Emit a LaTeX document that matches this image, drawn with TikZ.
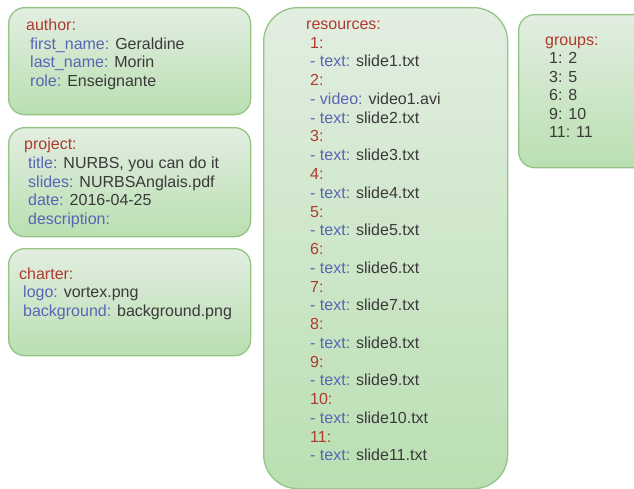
\documentclass[tikz,border=0pt]{standalone}
\usepackage{fontspec}
\setmainfont{Liberation Sans}
\definecolor{kred}{HTML}{B03A2E}
\definecolor{kblue}{HTML}{5865B5}
\definecolor{kgray}{HTML}{3A3A3A}
\definecolor{btop}{HTML}{E2EEE1}
\definecolor{bbot}{HTML}{BADFB2}
\definecolor{bdraw}{HTML}{94C585}
\newcommand{\Kr}[1]{\textcolor{kred}{#1}}
\newcommand{\Kb}[1]{\textcolor{kblue}{#1}}
\tikzset{
  card/.style={draw=bdraw, line width=1.3pt, top color=btop, bottom color=bbot,
    anchor=north west, inner sep=0pt, rounded corners=#1},
  card/.default=16pt,
  txt/.style={anchor=base west, inner sep=0pt, font=\fontsize{16}{18.75}\selectfont, text=kgray}
}
\begin{document}
\begin{tikzpicture}[x=1pt,y=-1pt]
\clip (0,0) rectangle (634,489);
% boxes
\node[card, minimum width=242pt, minimum height=107pt] (author) at (8,7) {};
\node[card, minimum width=242pt, minimum height=109pt] (project) at (8,127) {};
\node[card, minimum width=242pt, minimum height=107pt] (charter) at (8,248) {};
\node[card=34pt, minimum width=244pt, minimum height=481pt] (resources) at (263,7) {};
\node[card, minimum width=140pt, minimum height=153pt] (groups) at (518,14) {};
% author
\node[txt] (a0) at (26,30.5) {\Kr{author:}};
\node[txt] (a1) at (30,49.25) {\Kb{first\_name:} Geraldine};
\node[txt] (a2) at (30,68) {\Kb{last\_name:} Morin};
\node[txt] (a3) at (30,86.75) {\Kb{role:} Enseignante};
% project
\node[txt] (p0) at (24,149.5) {\Kr{project:}};
\node[txt] (p1) at (28,168.25) {\Kb{title:} NURBS, you can do it};
\node[txt] (p2) at (28,187) {\Kb{slides:} NURBSAnglais.pdf};
\node[txt] (p3) at (28,205.75) {\Kb{date:} 2016-04-25};
\node[txt] (p4) at (28,224.5) {\Kb{description:}};
% charter
\node[txt] (c0) at (19,279) {\Kr{charter:}};
\node[txt] (c1) at (23,297.75) {\Kb{logo:} vortex.png};
\node[txt] (c2) at (23,316.5) {\Kb{background:} background.png};
% resources
\node[txt] (r0) at (306,29.5) {\Kr{resources:}};
\foreach \t [count=\i] in {
  {\Kr{1:}}, {\Kb{- text:} slide1.txt},
  {\Kr{2:}}, {\Kb{- video:} video1.avi}, {\Kb{- text:} slide2.txt},
  {\Kr{3:}}, {\Kb{- text:} slide3.txt},
  {\Kr{4:}}, {\Kb{- text:} slide4.txt},
  {\Kr{5:}}, {\Kb{- text:} slide5.txt},
  {\Kr{6:}}, {\Kb{- text:} slide6.txt},
  {\Kr{7:}}, {\Kb{- text:} slide7.txt},
  {\Kr{8:}}, {\Kb{- text:} slide8.txt},
  {\Kr{9:}}, {\Kb{- text:} slide9.txt},
  {\Kr{10:}}, {\Kb{- text:} slide10.txt},
  {\Kr{11:}}, {\Kb{- text:} slide11.txt}}
  \node[txt] (r\i) at (310,29.5+\i*18.75) {\t};
% groups
\node[txt] (g0) at (545,45.5) {\Kr{groups:}};
\foreach \t [count=\i] in {1: 2, 3: 5, 6: 8, 9: 10, 11: 11}
  \node[txt] (g\i) at (549,45.5+\i*18.5) {\t};
\end{tikzpicture}
\end{document}
